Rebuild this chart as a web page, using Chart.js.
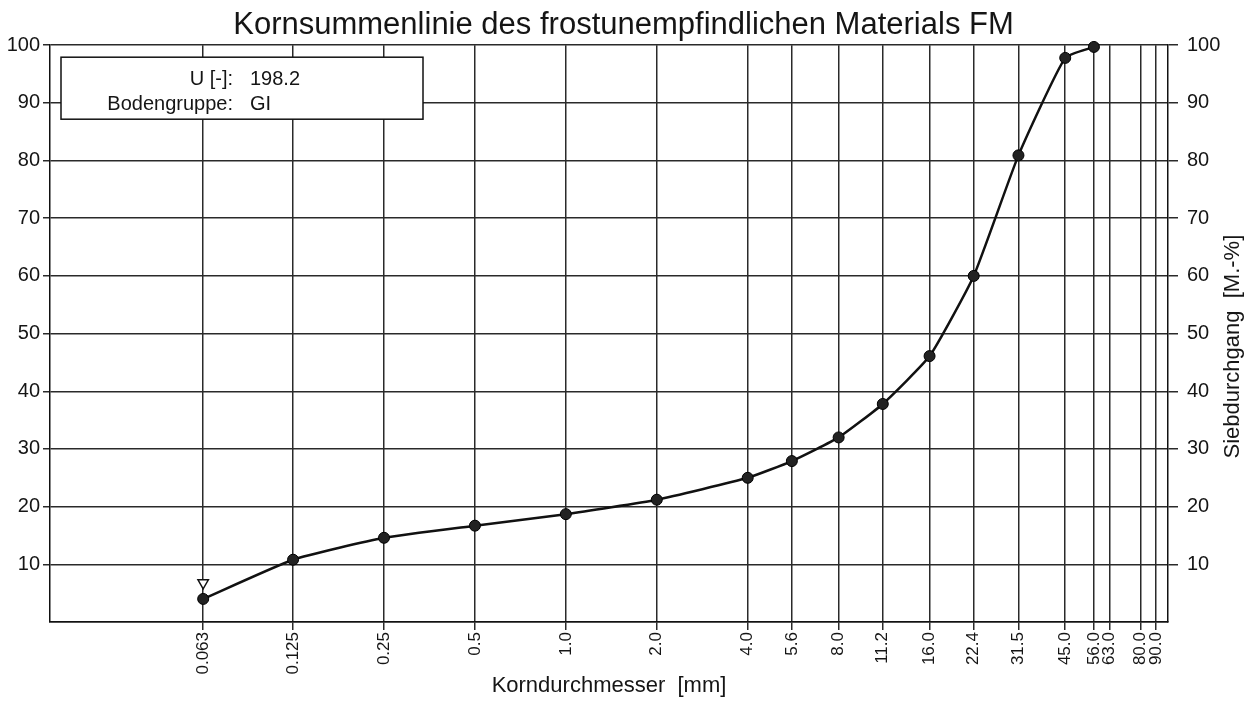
<!DOCTYPE html>
<html lang="de">
<head>
<meta charset="utf-8">
<title>Kornsummenlinie</title>
<script src="https://cdn.jsdelivr.net/npm/chart.js@4.4.1/dist/chart.umd.min.js"></script>
<style>
  html, body { margin: 0; padding: 0; background: #fff; }
  #cadre { width: 1247px; height: 701px; position: relative; }
</style>
</head>
<body>
<div id="cadre"><canvas id="chart-korn"></canvas></div>
<script>
// Siebgrößen (Raster der x-Achse) und ihre Beschriftung
const siebWeiten = [0.063, 0.125, 0.25, 0.5, 1.0, 2.0, 4.0, 5.6, 8.0, 11.2, 16.0, 22.4, 31.5, 45.0, 56.0, 63.0, 80.0, 90.0];
const siebLabels = ['0.063', '0.125', '0.25', '0.5', '1.0', '2.0', '4.0', '5.6', '8.0', '11.2', '16.0', '22.4', '31.5', '45.0', '56.0', '63.0', '80.0', '90.0'];

// Messpunkte der Kornsummenlinie
const kornX = [0.063, 0.125, 0.25, 0.5, 1.0, 2.0, 4.0, 5.6, 8.0, 11.2, 16.0, 22.4, 31.5, 45.0, 56.0];
const durchgang = [4.0, 10.8, 14.6, 16.7, 18.7, 21.2, 25.0, 27.9, 32.0, 37.8, 46.1, 60.0, 80.9, 97.8, 99.7];

// Markierung (Dreieck) bei 0.063 mm
const markeX = [0.063];
const markeY = [6.8];

// Legendenkasten
const infoLabels = ['U [-]:', 'Bodengruppe:'];
const infoWerte = ['198.2', 'GI'];

const SCHRIFT = "'Liberation Sans', Arial, Helvetica, sans-serif";
const FARBE = '#151515';
const GITTER = '#2a2a2a';

Chart.defaults.font.family = SCHRIFT;
Chart.defaults.color = FARBE;

// Kasten oben links + rechter Achsentitel (von unten nach oben gelesen)
const zusatzPlugin = {
  id: 'zusatz',
  afterDraw(chart) {
    const { ctx, chartArea } = chart;
    ctx.save();

    const x0 = chartArea.left + 11;
    const y0 = chartArea.top + 12;
    ctx.fillStyle = '#fff';
    ctx.fillRect(x0, y0, 362, 62);
    ctx.strokeStyle = '#111';
    ctx.lineWidth = 1.5;
    ctx.strokeRect(x0, y0, 362, 62);

    ctx.fillStyle = FARBE;
    ctx.font = `20px ${SCHRIFT}`;
    ctx.textBaseline = 'alphabetic';
    infoLabels.forEach((lbl, i) => {
      const yb = y0 + 28 + i * 25;
      ctx.textAlign = 'right';
      ctx.fillText(lbl, x0 + 172, yb);
      ctx.textAlign = 'left';
      ctx.fillText(infoWerte[i], x0 + 189, yb);
    });

    // Titel der rechten Achse
    ctx.translate(1233, (chartArea.top + chartArea.bottom) / 2 + 13);
    ctx.rotate(-Math.PI / 2);
    ctx.textAlign = 'center';
    ctx.textBaseline = 'middle';
    ctx.font = `22px ${SCHRIFT}`;
    ctx.fillText('Siebdurchgang  [M.-%]', 0, 0);
    ctx.restore();
  },
};

const ctx = document.getElementById('chart-korn').getContext('2d');

new Chart(ctx, {
  type: 'line',
  data: {
    datasets: [
      {
        label: 'Siebdurchgang',
        data: kornX.map((x, i) => ({ x, y: durchgang[i] })),
        borderColor: '#111',
        borderWidth: 2.5,
        tension: 0.15,
        pointRadius: 5.5,
        pointBackgroundColor: '#222',
        pointBorderColor: '#000',
        pointBorderWidth: 1,
        clip: false,
      },
      {
        label: 'Marke',
        data: markeX.map((x, i) => ({ x, y: markeY[i] })),
        showLine: false,
        pointStyle: 'triangle',
        rotation: 180,
        pointRadius: 6,
        pointBackgroundColor: '#fff',
        pointBorderColor: '#111',
        pointBorderWidth: 1.5,
        clip: false,
      },
    ],
  },
  options: {
    responsive: true,
    maintainAspectRatio: false,
    animation: false,
    layout: { padding: 0 },
    plugins: {
      legend: { display: false },
      tooltip: { enabled: false },
      title: {
        display: true,
        text: 'Kornsummenlinie des frostunempfindlichen Materials FM',
        color: FARBE,
        font: { size: 31, weight: 'normal' },
        padding: { top: 7, bottom: 1 },
      },
    },
    scales: {
      x: {
        type: 'logarithmic',
        position: 'bottom',
        min: 0.0196,
        max: 98.5,
        afterBuildTicks: (axis) => {
          axis.ticks = siebWeiten.map((v) => ({ value: v }));
        },
        afterFit: (axis) => { axis.height = 79; },
        ticks: {
          autoSkip: false,
          minRotation: 90,
          maxRotation: 90,
          padding: 2,
          color: FARBE,
          font: { size: 17 },
          callback: (val, i) => siebLabels[i],
        },
        grid: { color: GITTER, lineWidth: 1.5, tickLength: 8 },
        border: { display: true, color: '#111', width: 1.5 },
        title: {
          display: true,
          text: 'Korndurchmesser  [mm]',
          color: FARBE,
          font: { size: 22 },
          padding: { top: 0, bottom: 2 },
        },
      },
      y: {
        type: 'linear',
        position: 'left',
        min: 0,
        max: 100,
        afterFit: (axis) => { axis.width = 50; },
        ticks: {
          stepSize: 10,
          padding: 3,
          color: FARBE,
          font: { size: 20 },
          callback: (val) => (val === 0 ? '' : val),
        },
        grid: {
          color: GITTER,
          lineWidth: 1.5,
          tickLength: 7,
          tickColor: (c) => (c.tick && c.tick.value === 0 ? 'rgba(0,0,0,0)' : GITTER),
        },
        border: { display: true, color: '#111', width: 1.5 },
      },
      y2: {
        type: 'linear',
        position: 'right',
        min: 0,
        max: 100,
        afterFit: (axis) => { axis.width = 79; },
        ticks: {
          stepSize: 10,
          padding: 9,
          color: FARBE,
          font: { size: 20 },
          callback: (val) => (val === 0 ? '' : val),
        },
        grid: {
          drawOnChartArea: false,
          lineWidth: 1.5,
          tickLength: 10,
          tickColor: (c) => (c.tick && c.tick.value === 0 ? 'rgba(0,0,0,0)' : GITTER),
        },
        border: { display: true, color: '#111', width: 1.5 },
      },
    },
  },
  plugins: [zusatzPlugin],
});
</script>
</body>
</html>
